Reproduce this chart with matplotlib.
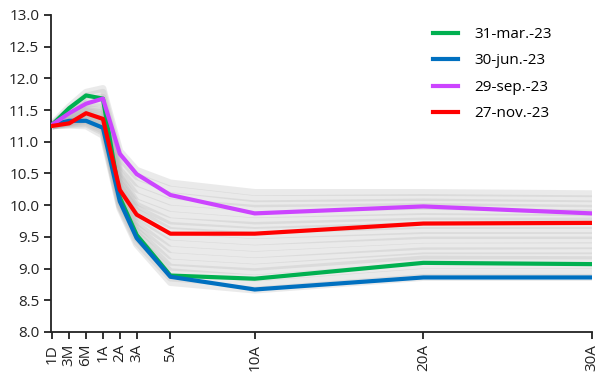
import matplotlib
matplotlib.use("Agg")
import matplotlib.pyplot as plt

plt.rcParams['font.family'] = ['Open Sans', 'DejaVu Sans']

tenors = ["1D", "3M", "6M", "1A", "2A", "3A", "5A", "10A", "20A", "30A"]
tenor_pos = [0, 1, 2, 3, 4, 5, 7, 12, 22, 32]

mar23 = [11.27, 11.53, 11.73, 11.68, 10.12, 9.53, 8.89, 8.84, 9.09, 9.07]
jun23 = [11.27, 11.33, 11.33, 11.22, 10.06, 9.48, 8.87, 8.67, 8.86, 8.86]
sep23 = [11.27, 11.45, 11.60, 11.68, 10.81, 10.49, 10.16, 9.87, 9.98, 9.87]
nov23 = [11.25, 11.29, 11.45, 11.36, 10.24, 9.85, 9.55, 9.55, 9.71, 9.72]

history = [
    [11.28, 11.55, 11.78, 11.84, 10.85, 10.55, 10.35, 10.20, 10.20, 10.18],
    [11.27, 11.50, 11.72, 11.78, 10.75, 10.45, 10.25, 10.10, 10.12, 10.10],
    [11.27, 11.45, 11.66, 11.70, 10.65, 10.35, 10.15, 10.02, 10.05, 10.02],
    [11.26, 11.42, 11.60, 11.62, 10.55, 10.25, 10.05, 9.95, 9.98, 9.95],
    [11.26, 11.40, 11.55, 11.55, 10.50, 10.15, 9.95, 9.85, 9.90, 9.88],
    [11.26, 11.38, 11.52, 11.50, 10.45, 10.05, 9.85, 9.75, 9.82, 9.80],
    [11.26, 11.36, 11.50, 11.45, 10.40, 10.00, 9.75, 9.68, 9.75, 9.75],
    [11.25, 11.35, 11.48, 11.42, 10.35, 9.95, 9.68, 9.60, 9.68, 9.68],
    [11.25, 11.34, 11.45, 11.38, 10.30, 9.90, 9.60, 9.52, 9.60, 9.60],
    [11.25, 11.33, 11.42, 11.35, 10.25, 9.82, 9.50, 9.42, 9.52, 9.52],
    [11.25, 11.32, 11.40, 11.32, 10.20, 9.75, 9.40, 9.32, 9.45, 9.45],
    [11.25, 11.31, 11.38, 11.30, 10.15, 9.70, 9.30, 9.22, 9.35, 9.36],
    [11.25, 11.30, 11.36, 11.28, 10.12, 9.65, 9.20, 9.12, 9.28, 9.28],
    [11.25, 11.30, 11.35, 11.25, 10.10, 9.60, 9.10, 9.02, 9.20, 9.20],
    [11.25, 11.29, 11.33, 11.22, 10.05, 9.55, 9.02, 8.95, 9.15, 9.14],
    [11.25, 11.28, 11.30, 11.18, 10.00, 9.48, 8.95, 8.85, 9.05, 9.05],
    [11.25, 11.27, 11.28, 11.15, 9.98, 9.42, 8.85, 8.75, 8.95, 8.95],
    [11.25, 11.26, 11.25, 11.10, 9.95, 9.38, 8.78, 8.66, 8.86, 8.86],
]

series = [
    ("31-mar.-23", mar23, "#00b050"),
    ("30-jun.-23", jun23, "#0070c0"),
    ("29-sep.-23", sep23, "#cc44ff"),
    ("27-nov.-23", nov23, "#ff0000"),
]

fig = plt.figure(figsize=(6.02, 3.73), dpi=100)
ax = fig.add_axes([0.0847, 0.110, 0.8987, 0.850])

for curve in history:
    ax.plot(tenor_pos, curve, color="#b4b4b4", lw=5, alpha=0.27, solid_capstyle="butt", zorder=1)

for label, vals, col in series:
    ax.plot(tenor_pos, vals, color=col, lw=3, label=label, zorder=3)

ax.set_xlim(-0.08, 32)
ax.set_ylim(8, 13)
ax.set_xticks(tenor_pos)
ax.set_xticklabels(tenors, rotation=90)
ax.set_yticks([8 + 0.5 * i for i in range(11)])
ax.set_yticklabels([f"{8 + 0.5 * i:.1f}" for i in range(11)])

for s in ["top", "right"]:
    ax.spines[s].set_visible(False)
for s in ["left", "bottom"]:
    ax.spines[s].set_color("#222222")
    ax.spines[s].set_linewidth(1.3)
ax.tick_params(axis="both", colors="#222222", labelsize=11, length=5, width=1.3)

leg = fig.legend(loc="upper left", bbox_to_anchor=(0.706, 0.948), frameon=False,
                 fontsize=11, handlelength=1.65, handletextpad=1.1, labelspacing=0.75,
                 borderpad=0)
for h in leg.get_lines():
    h.set_linewidth(3)

fig.savefig("out.png", dpi=100)
